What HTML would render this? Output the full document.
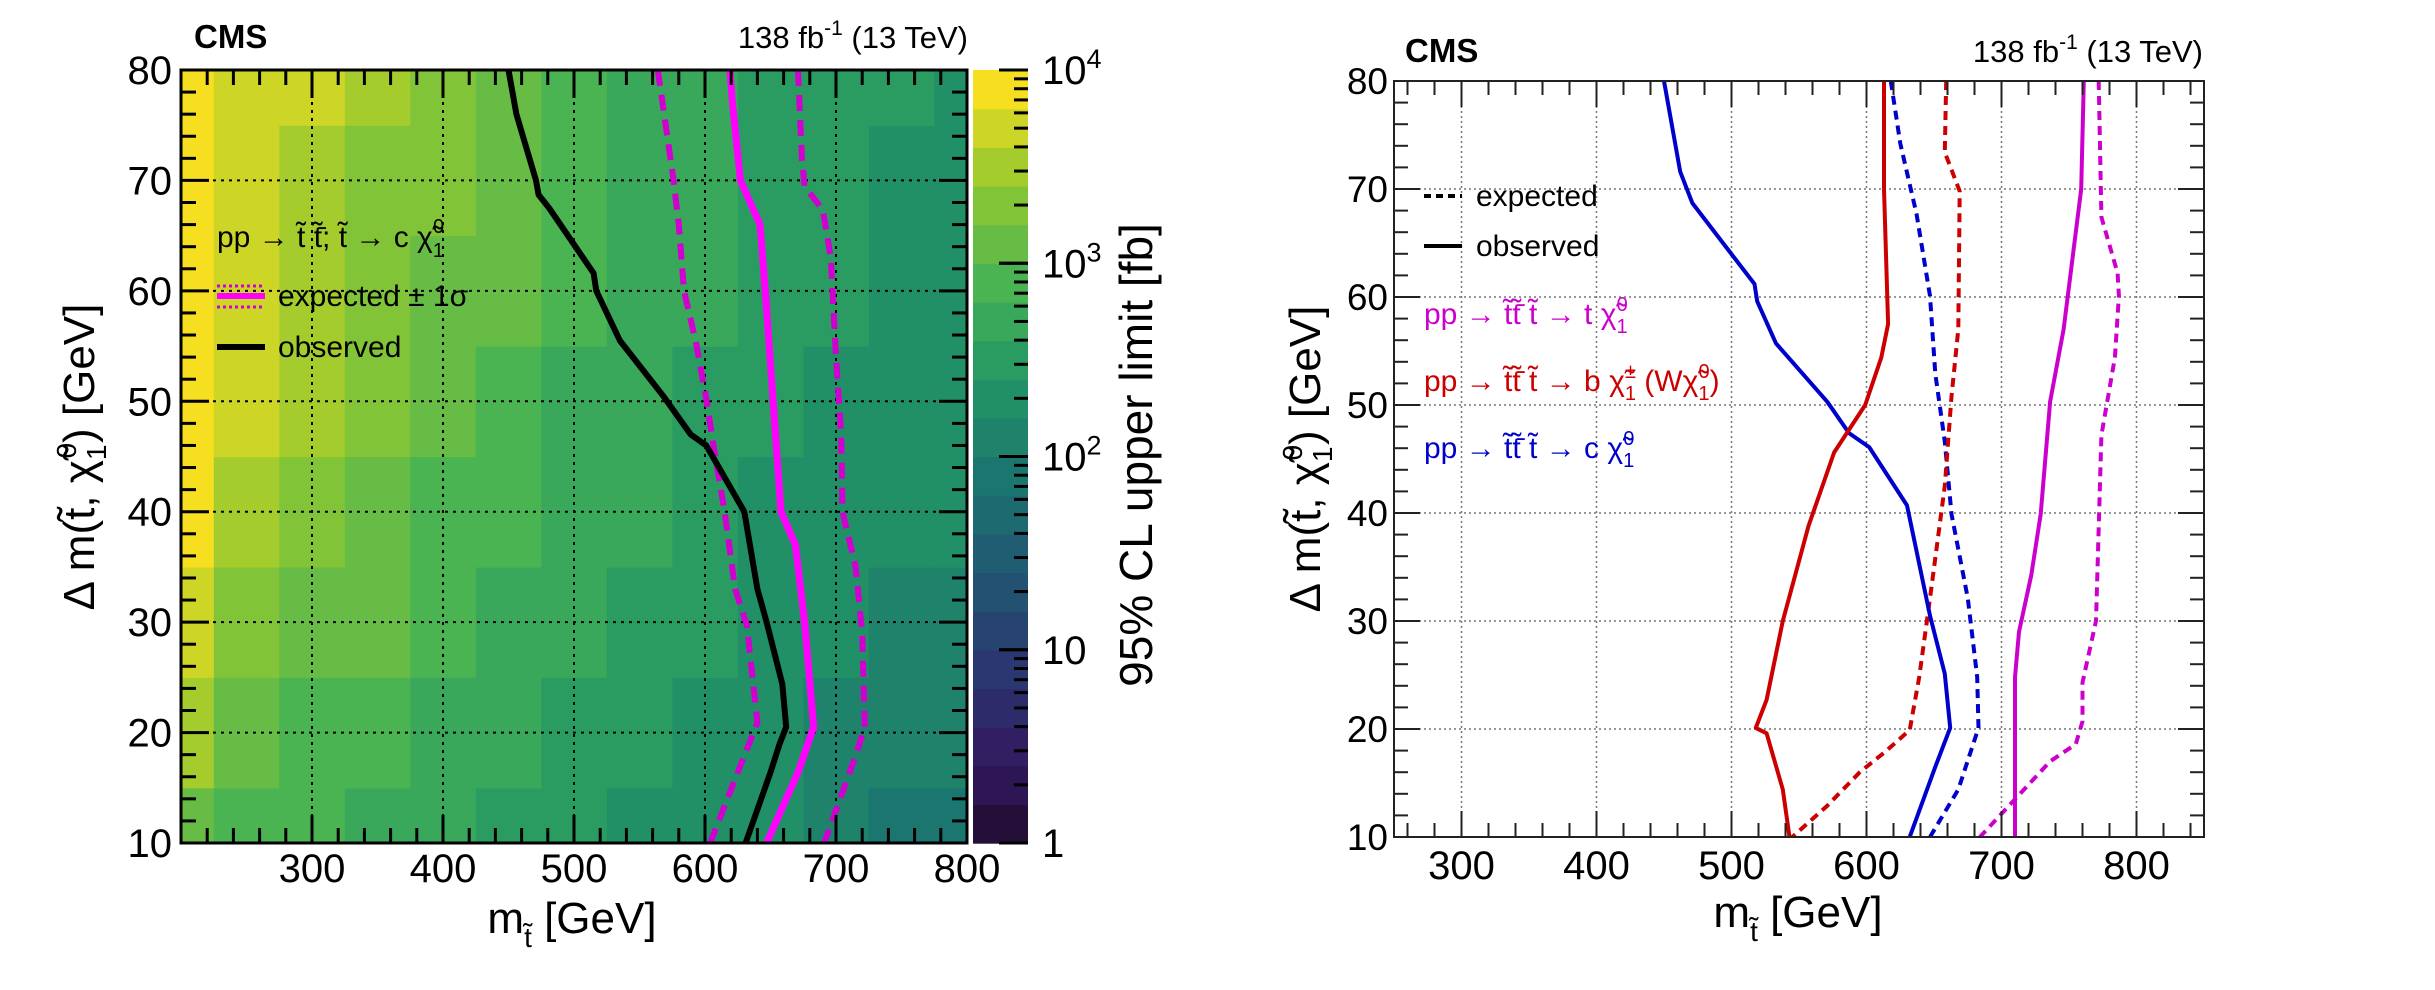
<!DOCTYPE html>
<html><head><meta charset="utf-8"><style>
html,body{margin:0;padding:0;background:#fff}
svg{display:block;font-family:"Liberation Sans",sans-serif}
</style></head><body>
<svg id="fig" width="2435" height="990" viewBox="0 0 2435 990" xmlns="http://www.w3.org/2000/svg">
<defs>
<clipPath id="clipL"><rect x="181" y="70" width="786" height="773"/></clipPath>
<clipPath id="clipR"><rect x="1394" y="81" width="810" height="756"/></clipPath>
</defs>
<g id="left"></g>
<g id="right"></g>
</svg>
<script>
// ---------- data ----------
const heatMasses = [200,250,300,350,400,450,500,550,600,650,700,750,800];
const heatDm = [10,20,30,40,50,60,70,80];
// log10(95% CL upper limit [fb]) per dm row
const heatRow10 = [3.10,2.95,2.85,2.75,2.62,2.52,2.42,2.38,2.30,2.20,2.05,1.95,1.95];
const heatRow20 = [3.45,3.05,2.95,2.85,2.72,2.60,2.50,2.42,2.35,2.25,2.15,2.05,2.05];
const heatRow30 = [3.65,3.30,3.15,3.00,2.85,2.72,2.60,2.52,2.45,2.32,2.22,2.15,2.12];
const heatRow40 = [3.85,3.50,3.35,3.18,2.98,2.85,2.72,2.62,2.52,2.38,2.30,2.25,2.20];
const heatRow50 = [3.88,3.60,3.42,3.25,3.08,2.92,2.80,2.68,2.58,2.45,2.38,2.30,2.28];
const heatRow60 = [3.90,3.68,3.50,3.32,3.15,3.00,2.85,2.72,2.60,2.50,2.42,2.35,2.35];
const heatRow70 = [3.92,3.73,3.55,3.37,3.20,3.04,2.88,2.74,2.62,2.50,2.45,2.40,2.40];
const heatRow80 = [3.95,3.78,3.60,3.40,3.25,3.08,2.90,2.75,2.62,2.52,2.45,2.42,2.40];
const heatRows = [heatRow10,heatRow20,heatRow30,heatRow40,heatRow50,heatRow60,heatRow70,heatRow80];

const leftObsM = [450,456,471,473,481,515,517,535,568,589,601,630,640,647,659,662,657,650,631];
const leftObsDm = [80,76,70,68.7,67.5,61.6,60,55.5,50.5,47,46,40,33,30,24.4,20.5,19,16.4,10];
const leftExpM = [619,621,627,642,646,652,658,669,676,683,671,647];
const leftExpDm = [80,77,70,66,60,50,40,37,30,20.5,16.4,10];
const leftExpDnM = [564,576,580,584,593,601,607,615,623,632,640,625,604];
const leftExpDnDm = [80,70,66,60,55.4,50.2,45.6,40,33,29.7,20.9,16.4,10];
const leftExpUpM = [671,674,676,690,696,700,704,705,715,720,722,715,691];
const leftExpUpDm = [80,72,69.5,67.3,63,54,47,40,35,29,20.5,17.9,10];

const blueObsM = [450,462,471,498,517,519,533,571,587,602,630,647,658,662,651,632];
const blueObsDm = [80,71.6,68.7,64.3,61.2,59.6,55.7,50.3,47.4,46.1,40.7,30.5,25.1,20.1,16.5,10];
const blueExpM = [618,625,637,647,651,658,663,675,682,683,668,647];
const blueExpDm = [80,74.2,67.7,60.1,52.9,46.6,39.9,32.1,24.8,20.1,14.4,10];
const redObsM = [613,613,616,611,599,576,557,538,526,518,526,538,543];
const redObsDm = [80,70,57.5,54.4,50,45.6,38.8,30,22.7,20.1,19.6,14.4,10];
const redExpM = [659,658,669,668,663,658,647,639,632,613,595,571,545];
const redExpDm = [80,73.4,69.8,57,50.8,42.5,32.1,24.8,19.9,17.8,16,12.9,10];
const magObsM = [761,759,746,736,729,722,713,710,710];
const magObsDm = [80,70,57,50.3,39.9,34.2,29,24.8,10];
const magExpM = [772,774,786,787,784,774,770,760,760,755,736,713,684];
const magExpDm = [80,67.4,62.2,60.1,54.4,47.2,30,24.3,20.7,18.6,17,13.9,10];

const xTicks = [300,400,500,600,700,800];
const yTicks = [10,20,30,40,50,60,70,80];
const zTickVals = [1,10,100,1000,10000];

// ---------- helpers ----------
const NS = "http://www.w3.org/2000/svg";
function mk(parent, tag, attrs, text){
  const e = document.createElementNS(NS, tag);
  for (const k in attrs) e.setAttribute(k, attrs[k]);
  if (text !== undefined) e.textContent = text;
  parent.appendChild(e);
  return e;
}
const lx = m => 181 + (m-200)*786/600;
const ly = d => 843 - (d-10)*773/70;
const rx = m => 1394 + (m-250)*810/600;
const ry = d => 837 - (d-10)*756/70;
const zy = v => 843 - Math.log10(v)*773/4;

const vr=[26,51,43,33,28,35,74,144,246], vg=[9,24,55,87,118,150,180,200,222], vb=[30,96,112,114,112,101,82,48,33];
function viridis(t){
  t=Math.max(0,Math.min(1,t)); const p=t*8; const i=Math.min(7,Math.floor(p)); const f=p-i;
  const c=a=>Math.round(a[i]+(a[i+1]-a[i])*f);
  return `rgb(${c(vr)},${c(vg)},${c(vb)})`;
}
function bandColor(L){ const b=Math.max(0,Math.min(19,Math.floor(L/0.2))); return viridis((b+1)/20); }

function pathD(ms, ds, fx, fy){ return ms.map((m,i)=>(i?'L':'M')+fx(m).toFixed(1)+','+fy(ds[i]).toFixed(1)).join(''); }

// ---------- LEFT PANEL ----------
const L = document.getElementById('left');
const heat = mk(L,'g',{'clip-path':'url(#clipL)'});


heatDm.forEach((d,j)=>{
  heatMasses.forEach((m,i)=>{
    const x0=lx(Math.max(200,m-25)), x1=lx(Math.min(800,m+25));
    const y0=ly(Math.min(80,d+5)), y1=ly(Math.max(10,d-5));
    const r = mk(heat,'rect',{x:x0.toFixed(1),y:y0.toFixed(1),width:(x1-x0+0.6).toFixed(1),height:(y1-y0+0.6).toFixed(1),fill:bandColor(heatRows[j][i])});
    
    
  });
});
// grid
const gl = mk(L,'g',{stroke:'#000','stroke-width':2,'stroke-dasharray':'3,5'});


xTicks.slice(0,5).forEach(m=>mk(gl,'line',{x1:lx(m),x2:lx(m),y1:70,y2:843}));
yTicks.slice(1,7).forEach(d=>mk(gl,'line',{x1:181,x2:967,y1:ly(d),y2:ly(d)}));
// curves
const cl = mk(L,'g',{'clip-path':'url(#clipL)',fill:'none','stroke-linejoin':'round'});
let p;
p=mk(cl,'path',{d:pathD(leftExpDnM,leftExpDnDm,lx,ly),stroke:'#d000d0','stroke-width':6,'stroke-dasharray':'16,9'});
 
p=mk(cl,'path',{d:pathD(leftExpUpM,leftExpUpDm,lx,ly),stroke:'#d000d0','stroke-width':6,'stroke-dasharray':'16,9'});
 
p=mk(cl,'path',{d:pathD(leftExpM,leftExpDm,lx,ly),stroke:'#ff00ff','stroke-width':7});
 
p=mk(cl,'path',{d:pathD(leftObsM,leftObsDm,lx,ly),stroke:'#000','stroke-width':6});
 
// frame & ticks
const fr = mk(L,'g',{stroke:'#000','stroke-width':3,fill:'none'});
 
mk(fr,'rect',{x:181,y:70,width:786,height:773});
for(let m=200;m<=800;m+=20){ const len=(m%100===0)?28:15; mk(fr,'line',{x1:lx(m),x2:lx(m),y1:843,y2:843-len}); mk(fr,'line',{x1:lx(m),x2:lx(m),y1:70,y2:70+len}); }
for(let d=10;d<=80;d+=2){ const len=(d%10===0)?28:15; mk(fr,'line',{x1:181,x2:181+len,y1:ly(d),y2:ly(d)}); mk(fr,'line',{x1:967,x2:967-len,y1:ly(d),y2:ly(d)}); }
// tick labels
const tl = mk(L,'g',{'font-size':40,fill:'#000'});
 
xTicks.forEach(m=>{ const t=mk(tl,'text',{x:lx(m),y:882,'text-anchor':'middle'},String(m));   });
yTicks.forEach(d=>{ const t=mk(tl,'text',{x:172,y:ly(d)+14,'text-anchor':'end'},String(d));   });
// colorbar
const cb = mk(L,'g',{});
 
for(let b=0;b<20;b++){ const y0=843-(b+1)*773/20; mk(cb,'rect',{x:973,y:y0.toFixed(1),width:55,height:(773/20+0.6).toFixed(1),fill:viridis((b+1)/20)}); }
const cbt = mk(cb,'g',{stroke:'#000','stroke-width':3});
for(let e=0;e<4;e++) for(let k=1;k<=10;k++){ const v=k*Math.pow(10,e); const len=(k===1||k===10)?29:14; mk(cbt,'line',{x1:1028,x2:1028-len,y1:zy(v),y2:zy(v)}); }
const zl = mk(cb,'g',{'font-size':40});
zTickVals.forEach(v=>{
  const e=Math.round(Math.log10(v)); const t=mk(zl,'text',{x:1042,y:zy(v)+14});
   
  if(e===0) t.textContent='1'; else if(e===1) t.textContent='10';
  else { t.textContent='10'; mk(t,'tspan',{dy:-16,'font-size':27},String(e)); }
});
let t;
t=mk(L,'text',{x:0,y:0,'font-size':46,transform:'translate(1152,455) rotate(-90)','text-anchor':'middle'},'95% CL upper limit [fb]');
 
// titles
t=mk(L,'text',{x:194,y:48,'font-size':33,'font-weight':'bold'},'CMS');
 
t=mk(L,'text',{x:968,y:48,'font-size':31,'text-anchor':'end'});
 
t.appendChild(document.createTextNode('138 fb')); mk(t,'tspan',{dy:-13,'font-size':21},'-1'); mk(t,'tspan',{dy:13},' (13 TeV)');
// axis titles
t=mk(L,'text',{x:572,y:933,'font-size':44,'text-anchor':'middle'});
 
t.appendChild(document.createTextNode('m')); mk(t,'tspan',{dy:14,'font-size':28},'t\u0303'); mk(t,'tspan',{dy:-14},' [GeV]');
t=mk(L,'text',{x:0,y:0,'font-size':44,transform:'translate(94,457) rotate(-90)','text-anchor':'middle'});
 
t.appendChild(document.createTextNode('\u0394 m(t\u0303, \u03c7\u0303')); mk(t,'tspan',{dy:12,'font-size':28},'1'); mk(t,'tspan',{dx:-14,dy:-30,'font-size':28},'0'); mk(t,'tspan',{dy:18},') [GeV]');
// legend
const lg = mk(L,'g',{'font-size':30});
 
t=mk(lg,'text',{x:217,y:247});
 
t.appendChild(document.createTextNode('pp \u2192 t\u0303 t\u0303\u0304; t\u0303 \u2192 c \u03c7\u0303')); mk(t,'tspan',{dy:10,'font-size':20},'1'); mk(t,'tspan',{dx:-11,dy:-24,'font-size':20},'0');
mk(lg,'line',{x1:217,x2:265,y1:296,y2:296,stroke:'#ff00ff','stroke-width':6});
mk(lg,'line',{x1:217,x2:265,y1:286,y2:286,stroke:'#d000d0','stroke-width':3,'stroke-dasharray':'3,3'});
mk(lg,'line',{x1:217,x2:265,y1:307,y2:307,stroke:'#d000d0','stroke-width':3,'stroke-dasharray':'3,3'});
t=mk(lg,'text',{x:278,y:306},'expected \u00b1 1\u03c3');
 
mk(lg,'line',{x1:217,x2:265,y1:347,y2:347,stroke:'#000','stroke-width':6});
t=mk(lg,'text',{x:278,y:357},'observed');
 

// ---------- RIGHT PANEL ----------
const R = document.getElementById('right');
const rg = mk(R,'g',{stroke:'#777','stroke-width':1.5,'stroke-dasharray':'2,3'});
 
xTicks.forEach(m=>mk(rg,'line',{x1:rx(m),x2:rx(m),y1:81,y2:837}));
yTicks.slice(1,7).forEach(d=>mk(rg,'line',{x1:1394,x2:2204,y1:ry(d),y2:ry(d)}));
const rc = mk(R,'g',{'clip-path':'url(#clipR)',fill:'none','stroke-width':4,'stroke-linejoin':'round'});
const series = [
 [blueExpM,blueExpDm,'#0000cc',true,'blue-expected-curve'],
 [redExpM,redExpDm,'#cc0000',true,'red-expected-curve'],
 [magExpM,magExpDm,'#cc00cc',true,'magenta-expected-curve'],
 [blueObsM,blueObsDm,'#0000cc',false,'blue-observed-curve'],
 [redObsM,redObsDm,'#cc0000',false,'red-observed-curve'],
 [magObsM,magObsDm,'#cc00cc',false,'magenta-observed-curve']];
series.forEach(s=>{
  const a={d:pathD(s[0],s[1],rx,ry),stroke:s[2]}; if(s[3]) a['stroke-dasharray']='9,6';
  const pp=mk(rc,'path',a);
   
});
const rf = mk(R,'g',{stroke:'#222','stroke-width':2,fill:'none'});
 
mk(rf,'rect',{x:1394,y:81,width:810,height:756});
for(let m=260;m<=840;m+=20){ const len=(m%100===0)?26:14; mk(rf,'line',{x1:rx(m),x2:rx(m),y1:837,y2:837-len}); mk(rf,'line',{x1:rx(m),x2:rx(m),y1:81,y2:81+len}); }
for(let d=10;d<=80;d+=2){ const len=(d%10===0)?26:14; mk(rf,'line',{x1:1394,x2:1394+len,y1:ry(d),y2:ry(d)}); mk(rf,'line',{x1:2204,x2:2204-len,y1:ry(d),y2:ry(d)}); }
const rtl = mk(R,'g',{'font-size':40});
 
xTicks.forEach(m=>{ const q=mk(rtl,'text',{x:rx(m),y:879,'text-anchor':'middle'},String(m));   });
yTicks.forEach(d=>{ const q=mk(rtl,'text',{x:1388,y:ry(d)+13,'text-anchor':'end','font-size':37},String(d));   });
t=mk(R,'text',{x:1405,y:62,'font-size':33,'font-weight':'bold'},'CMS');
 
t=mk(R,'text',{x:2203,y:62,'font-size':31,'text-anchor':'end'});
 
t.appendChild(document.createTextNode('138 fb')); mk(t,'tspan',{dy:-13,'font-size':21},'-1'); mk(t,'tspan',{dy:13},' (13 TeV)');
t=mk(R,'text',{x:1798,y:927,'font-size':44,'text-anchor':'middle'});
 
t.appendChild(document.createTextNode('m')); mk(t,'tspan',{dy:14,'font-size':28},'t\u0303'); mk(t,'tspan',{dy:-14},' [GeV]');
t=mk(R,'text',{x:0,y:0,'font-size':44,transform:'translate(1320,459) rotate(-90)','text-anchor':'middle'});
 
t.appendChild(document.createTextNode('\u0394 m(t\u0303, \u03c7\u0303')); mk(t,'tspan',{dy:12,'font-size':28},'1'); mk(t,'tspan',{dx:-14,dy:-30,'font-size':28},'0'); mk(t,'tspan',{dy:18},') [GeV]');
const rl = mk(R,'g',{'font-size':30});
 
mk(rl,'line',{x1:1424,x2:1462,y1:196,y2:196,stroke:'#000','stroke-width':4,'stroke-dasharray':'7,5'});
t=mk(rl,'text',{x:1476,y:206},'expected');  
mk(rl,'line',{x1:1424,x2:1462,y1:246,y2:246,stroke:'#000','stroke-width':4});
t=mk(rl,'text',{x:1476,y:256},'observed');  
const procs=[['#cc00cc',324,'pp \u2192 t\u0303t\u0303\u0304  t\u0303 \u2192 t \u03c7\u0303','','legend-t-neutralino'],
 ['#cc0000',391,'pp \u2192 t\u0303t\u0303\u0304  t\u0303 \u2192 b \u03c7\u0303','\u00b1','legend-b-chargino'],
 ['#0000cc',458,'pp \u2192 t\u0303t\u0303\u0304  t\u0303 \u2192 c \u03c7\u0303','','legend-c-neutralino']];
procs.forEach(pr=>{
  const q=mk(rl,'text',{x:1424,y:pr[1],fill:pr[0]});
   
  q.appendChild(document.createTextNode(pr[2]));
  mk(q,'tspan',{dy:9,'font-size':20},'1'); mk(q,'tspan',{dx:-11,dy:-22,'font-size':20},pr[3]||'0'); const last=mk(q,'tspan',{dy:13},'');
  if(pr[3]){ last.textContent=' (W\u03c7\u0303'; mk(q,'tspan',{dy:9,'font-size':20},'1'); mk(q,'tspan',{dx:-11,dy:-22,'font-size':20},'0'); mk(q,'tspan',{dy:13},')'); }
});
</script>
</body></html>
